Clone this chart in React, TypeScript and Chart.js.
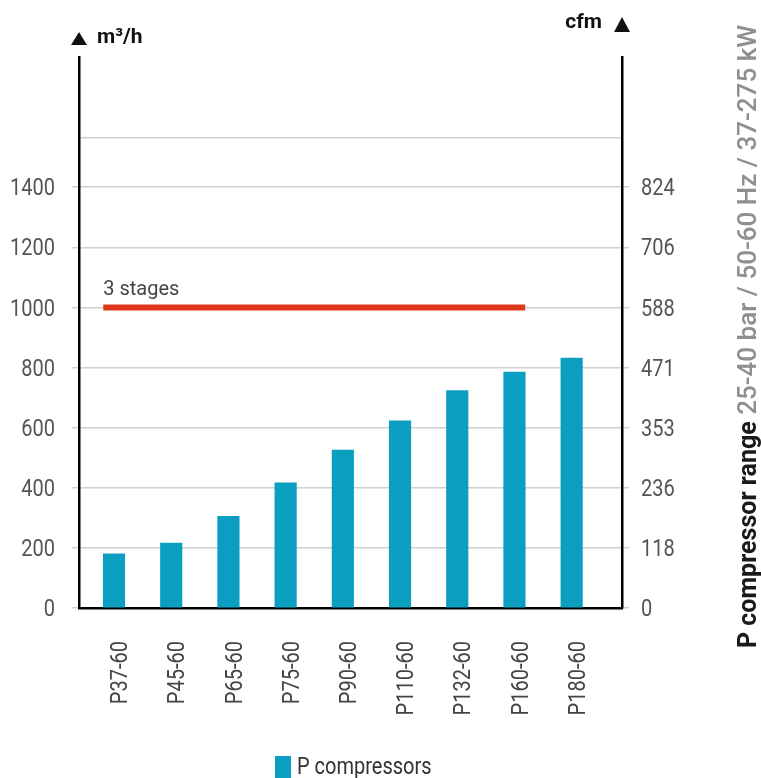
import React, { useEffect, useRef } from "react";
import { Chart, registerables } from "chart.js";

Chart.register(...registerables);

// ---- data ----
const categories = ["P37-60", "P45-60", "P65-60", "P75-60", "P90-60", "P110-60", "P132-60", "P160-60", "P180-60"];
const flowM3h = [180, 216, 305, 416, 525, 623, 723, 785, 831];
const leftTickValues = [0, 200, 400, 600, 800, 1000, 1200, 1400];
const leftTickLabels = ["0", "200", "400", "600", "800", "1000", "1200", "1400"];
const rightTickLabels = ["0", "118", "236", "353", "471", "588", "706", "824"];
const upperGuideValue = 1566;
const yAxisMax = 1833;
const stagesValue = 1000;
const stagesFrom = "P37-60";
const stagesTo = "P160-60";
const stagesLabel = "3 stages";
const seriesLabel = "P compressors";
const leftAxisTitle = "m³/h";
const rightAxisTitle = "cfm";
const sideTitleBold = "P compressor range";
const sideTitleRest = " 25-40 bar / 50-60 Hz / 37-275 kW";

const BAR_COLOR = "#0a9ec0";
const LINE_COLOR = "#e0381c";
const GRID_COLOR = "#cfcfcf";
const TICK_FONT = "23px Roboto";
const TICK_SIZE = 23;
const CONDENSE = 0.87;
const CAP = 0.711 * TICK_SIZE;

const allYTicks = [...leftTickValues, upperGuideValue];

function condensedText(ctx: CanvasRenderingContext2D, text: string, x: number, y: number, align: CanvasTextAlign, rotate = 0) {
  ctx.save();
  ctx.translate(x, y);
  if (rotate) ctx.rotate(rotate);
  ctx.scale(CONDENSE, 1);
  ctx.textAlign = align;
  ctx.textBaseline = "alphabetic";
  ctx.fillText(text, 0, 0);
  ctx.restore();
}

const decorPlugin = {
  id: "decor",
  afterDatasetsDraw(chart: any) {
    const { ctx, scales } = chart;
    const meta = chart.getDatasetMeta(0);
    const b0: any = meta.data[categories.indexOf(stagesFrom)];
    const b1: any = meta.data[categories.indexOf(stagesTo)];
    if (!b0 || !b1) return;
    const x0 = b0.x - b0.width / 2;
    const x1 = b1.x + b1.width / 2;
    const y = scales.y.getPixelForValue(stagesValue);
    ctx.save();
    ctx.strokeStyle = LINE_COLOR;
    ctx.lineWidth = 6;
    ctx.lineCap = "butt";
    ctx.beginPath();
    ctx.moveTo(x0, y);
    ctx.lineTo(x1, y);
    ctx.stroke();
    ctx.font = "20px Roboto";
    ctx.fillStyle = "#444";
    ctx.textBaseline = "alphabetic";
    ctx.textAlign = "left";
    ctx.fillText(stagesLabel, x0, y - 12.5);
    ctx.restore();
  },
  afterDraw(chart: any) {
    const { ctx, chartArea, scales } = chart;
    const { left, right, top, bottom } = chartArea;
    ctx.save();

    // tick labels (condensed)
    ctx.font = TICK_FONT;
    ctx.fillStyle = "#555";
    leftTickValues.forEach((v, i) => {
      const py = scales.y.getPixelForValue(v);
      condensedText(ctx, leftTickLabels[i], left - 24, py + CAP / 2, "right");
      const py2 = scales.y2.getPixelForValue(v);
      condensedText(ctx, rightTickLabels[i], right + 19, py2 + CAP / 2, "left");
    });
    ctx.fillStyle = "#444";
    categories.forEach((c, i) => {
      const px = scales.x.getPixelForValue(i);
      condensedText(ctx, c, px + 5 + CAP / 2, bottom + 33, "right", -Math.PI / 2);
    });

    // legend
    const lx = left + 196;
    const ly = bottom + 148;
    ctx.fillStyle = BAR_COLOR;
    ctx.fillRect(lx, ly, 16, 24);
    ctx.fillStyle = "#333";
    condensedText(ctx, seriesLabel, lx + 22, ly + 2 + CAP, "left");

    // arrows
    ctx.fillStyle = "#111";
    ctx.beginPath();
    ctx.moveTo(left, top - 25);
    ctx.lineTo(left - 8, top - 12);
    ctx.lineTo(left + 8, top - 12);
    ctx.closePath();
    ctx.fill();
    ctx.beginPath();
    ctx.moveTo(right, top - 40);
    ctx.lineTo(right - 8, top - 25);
    ctx.lineTo(right + 8, top - 25);
    ctx.closePath();
    ctx.fill();

    // axis titles
    ctx.font = "bold 21px Roboto";
    ctx.textBaseline = "alphabetic";
    ctx.textAlign = "left";
    ctx.fillText(leftAxisTitle, left + 18, top - 14);
    ctx.textAlign = "right";
    ctx.fillText(rightAxisTitle, right - 20, top - 29);

    // side title
    ctx.translate(chart.width - 5, bottom + 40);
    ctx.rotate(-Math.PI / 2);
    ctx.textAlign = "left";
    ctx.font = "bold 25px Roboto";
    ctx.fillStyle = "#1a1a1a";
    ctx.fillText(sideTitleBold, 0, 0);
    const w = ctx.measureText(sideTitleBold).width;
    ctx.font = "500 26px Roboto";
    ctx.fillStyle = "#8f8f8f";
    ctx.fillText(sideTitleRest, w, 0);
    ctx.restore();
  },
};

export default function App() {
  const canvasRef = useRef<HTMLCanvasElement | null>(null);

  useEffect(() => {
    const canvas = canvasRef.current;
    if (!canvas) return;
    const tickColorFn = (c: any) => (c.tick && c.tick.value === upperGuideValue ? "rgba(0,0,0,0)" : GRID_COLOR);
    const chart = new Chart(canvas, {
      type: "bar",
      data: {
        datasets: [
          {
            label: seriesLabel,
            data: flowM3h.map((v, i) => ({ x: i, y: v })),
            backgroundColor: BAR_COLOR,
            borderWidth: 0,
            barThickness: 21.5,
          },
        ],
      },
      options: {
        animation: false,
        responsive: false,
        maintainAspectRatio: false,
        layout: { padding: { top: 57, left: 0, right: 0, bottom: 25 } },
        plugins: {
          tooltip: { enabled: false },
          legend: { display: false },
        },
        scales: {
          x: {
            type: "linear",
            min: -0.612,
            max: 8.88,
            offset: false,
            grid: { display: false, drawTicks: false, offset: false },
            border: { display: true, color: "#000", width: 2.5 },
            afterBuildTicks: (scale: any) => {
              scale.ticks = categories.map((_, i) => ({ value: i }));
            },
            afterFit: (scale: any) => {
              scale.height = 145;
            },
            ticks: { display: false },
          },
          y: {
            type: "linear",
            position: "left",
            min: 0,
            max: yAxisMax,
            grid: {
              color: GRID_COLOR,
              lineWidth: 1.5,
              tickLength: 7,
              tickColor: tickColorFn,
            },
            border: { display: true, color: "#000", width: 2.5 },
            afterBuildTicks: (scale: any) => {
              scale.ticks = allYTicks.map((v) => ({ value: v }));
            },
            afterFit: (scale: any) => {
              scale.width = 79;
            },
            ticks: { display: false },
          },
          y2: {
            type: "linear",
            position: "right",
            min: 0,
            max: yAxisMax,
            grid: {
              drawOnChartArea: false,
              color: GRID_COLOR,
              lineWidth: 1.5,
              tickLength: 7,
              tickColor: tickColorFn,
            },
            border: { display: true, color: "#000", width: 2.5 },
            afterBuildTicks: (scale: any) => {
              scale.ticks = allYTicks.map((v) => ({ value: v }));
            },
            afterFit: (scale: any) => {
              scale.width = 139;
            },
            ticks: { display: false },
          },
        },
      } as any,
      plugins: [decorPlugin],
    });
    return () => chart.destroy();
  }, []);

  return (
    <div style={{ position: "absolute", left: 0, top: 0, width: 761, height: 778, background: "#fff" }}>
      <canvas ref={canvasRef} width={761} height={778} style={{ width: 761, height: 778, display: "block" }} />
    </div>
  );
}
